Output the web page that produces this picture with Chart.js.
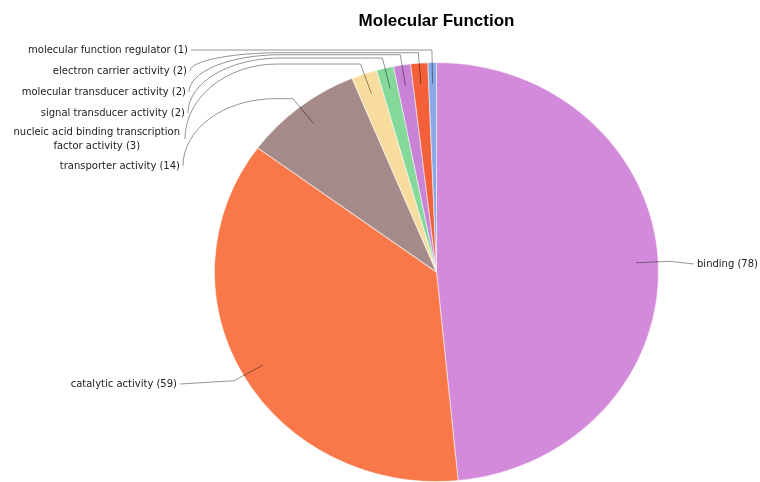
<!DOCTYPE html>
<html lang="en">
<head>
  <meta charset="UTF-8">
  <title>Molecular Function</title>
  <script src="https://cdn.jsdelivr.net/npm/chart.js"></script>
  <style>
    body { margin: 0; background: #fff; overflow: hidden; }
  </style>
</head>
<body>
<canvas id="mfChart" width="760" height="482"></canvas>
<script>
  // GO molecular function categories, clockwise from 12 o'clock
  const categories = [
    'binding',
    'catalytic activity',
    'transporter activity',
    'nucleic acid binding transcription factor activity',
    'signal transducer activity',
    'molecular transducer activity',
    'electron carrier activity',
    'molecular function regulator'
  ];
  const geneCounts = [78, 59, 14, 3, 2, 2, 2, 1];
  const sliceColors = ['#D38ADB', '#F8784A', '#A48A88', '#F7DC9D', '#84D89A', '#C883D6', '#F4603A', '#88A9E7'];

  // callout text anchors (layout only)
  const labelSpots = [
    { x: 697, y: 264, side: 'right' },
    { x: 177, y: 384, side: 'left' },
    { x: 180, y: 166, side: 'left', curved: true },
    { x: 180, y: 132, side: 'left', curved: true, lines: ['nucleic acid binding transcription', 'factor activity'] },
    { x: 185, y: 113, side: 'left', curved: true },
    { x: 186, y: 92, side: 'left', curved: true },
    { x: 187, y: 71, side: 'left', curved: true },
    { x: 188, y: 50, side: 'left', curved: true }
  ];

  const pieHalfWidth = 222;   // the pie is drawn slightly wider than tall
  const labelFont = '10px "DejaVu Sans", Verdana, sans-serif';

  const ovalPie = {
    id: 'ovalPie',
    beforeDatasetsDraw(chart) {
      const arc = chart.getDatasetMeta(0).data[0];
      const sx = pieHalfWidth / arc.outerRadius;
      const ctx = chart.ctx;
      ctx.save();
      ctx.translate(arc.x, arc.y);
      ctx.scale(sx, 1);
      ctx.translate(-arc.x, -arc.y);
    },
    afterDatasetsDraw(chart) {
      const ctx = chart.ctx;
      ctx.restore();

      const arcs = chart.getDatasetMeta(0).data;
      ctx.save();
      ctx.font = labelFont;
      ctx.textBaseline = 'middle';
      ctx.lineWidth = 1;
      ctx.strokeStyle = 'rgba(0,0,0,0.42)';
      ctx.fillStyle = '#222';

      arcs.forEach((arc, i) => {
        const p = arc.getProps(['x', 'y', 'startAngle', 'endAngle', 'outerRadius'], true);
        const sx = pieHalfWidth / p.outerRadius;
        const mid = (p.startAngle + p.endAngle) / 2;
        const at = k => ({
          x: p.x + Math.cos(mid) * p.outerRadius * k * sx,
          y: p.y + Math.sin(mid) * p.outerRadius * k
        });
        const inner = at(0.9), outer = at(1.05);
        const spot = labelSpots[i];
        const suffix = ' (' + geneCounts[i] + ')';

        // text
        let startX, startY;
        if (spot.lines) {
          const l1 = spot.lines[0], l2 = spot.lines[1] + suffix;
          const w = Math.max(ctx.measureText(l1).width, ctx.measureText(l2).width);
          const cx = spot.x - w / 2;
          ctx.textAlign = 'center';
          ctx.fillText(l1, cx, spot.y);
          ctx.fillText(l2, cx, spot.y + 14);
          startX = spot.x + 5;
          startY = spot.y + 7;
        } else {
          ctx.textAlign = spot.side === 'left' ? 'right' : 'left';
          ctx.fillText(categories[i] + suffix, spot.x, spot.y);
          startX = spot.side === 'left' ? spot.x + 3 : spot.x - 3;
          startY = spot.y;
        }

        // leader line
        ctx.beginPath();
        if (spot.curved) {
          const ry = startY - outer.y;
          ctx.moveTo(startX, startY);
          if (ry > 3) {
            const rx = 92;
            ctx.ellipse(startX + rx, startY, rx, ry, 0, Math.PI, 1.5 * Math.PI);
            ctx.lineTo(outer.x, outer.y);
          } else {
            ctx.lineTo(outer.x, startY);
            ctx.lineTo(outer.x, outer.y);
          }
        } else {
          ctx.moveTo(startX, startY);
          ctx.lineTo(outer.x, outer.y);
        }
        ctx.lineTo(inner.x, inner.y);
        ctx.stroke();
      });
      ctx.restore();
    }
  };

  new Chart(document.getElementById('mfChart'), {
    type: 'pie',
    data: {
      labels: categories,
      datasets: [{
        data: geneCounts,
        backgroundColor: sliceColors,
        borderColor: 'rgba(255,255,255,0.5)',
        borderWidth: 1
      }]
    },
    options: {
      responsive: false,
      animation: false,
      layout: { padding: { left: 200, right: 87, top: 0, bottom: 0 } },
      plugins: {
        legend: { display: false },
        tooltip: { enabled: false },
        title: {
          display: true,
          text: 'Molecular Function',
          color: '#000',
          font: { family: '"Liberation Sans", Arial, sans-serif', size: 17, weight: 'bold' },
          padding: { top: 11, bottom: 30.6 }
        }
      }
    },
    plugins: [ovalPie]
  });
</script>
</body>
</html>
